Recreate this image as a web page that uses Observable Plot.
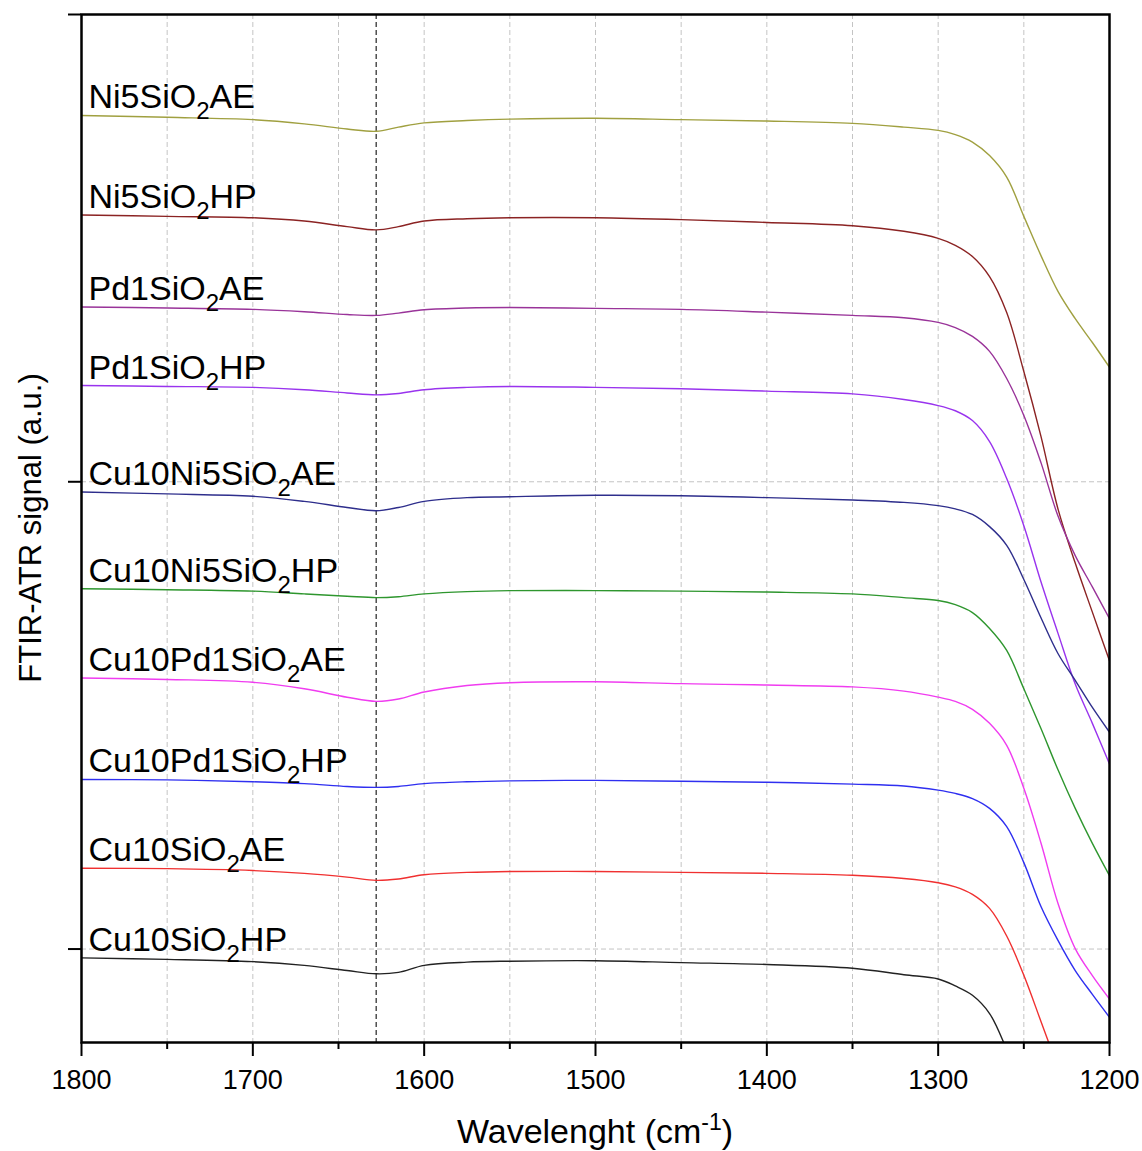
<!DOCTYPE html>
<html><head><meta charset="utf-8">
<script src="https://cdn.jsdelivr.net/npm/d3@7"></script>
<script src="https://cdn.jsdelivr.net/npm/@observablehq/plot@0.6"></script>
<style>body{margin:0;background:#fff;} #chart{width:1142px;height:1151px;}</style>
</head><body><div id="chart"></div>
<script>
// Wavenumbers (cm-1) at which the spectra were read
const wavenumbers = [1800,1750,1700,1670,1645,1628,1615,1600,1575,1550,1500,1450,1400,1350,1320,1300,1290,1280,1270,1260,1250,1240,1230,1220,1210,1200];

// FTIR-ATR signal (a.u., stacked/offset spectra)
const ni5AE     = [178.4,178.0,177.5,176.6,175.5,175.0,175.9,176.8,177.3,177.6,177.8,177.5,177.2,176.7,175.9,175.2,174.3,172.7,169.8,165.2,156.8,148.4,140.7,134.9,129.8,124.5];
const ni5HP     = [157.1,156.8,156.5,155.8,154.6,153.9,154.6,155.8,156.3,156.5,156.5,156.1,155.5,154.8,153.6,152.1,150.6,148.2,143.9,136.2,123.6,109.7,94.1,82.6,72.1,61.7];
const pd1AE     = [137.4,137.2,136.9,136.4,135.8,135.6,136.1,136.8,137.2,137.3,137.1,136.9,136.3,135.6,135.1,134.1,133.0,131.1,127.9,122.1,114.2,104.1,92.6,84.2,77.5,70.7];
const pd1HP     = [120.6,120.4,120.2,119.7,119.0,118.6,118.9,119.7,120.2,120.4,120.2,119.9,119.4,118.8,117.6,116.3,115.2,113.1,108.6,100.7,90.6,78.6,67.5,56.7,48.3,39.6];
const cu10ni5AE = [97.8,97.4,96.9,95.8,94.5,93.8,94.5,95.8,96.6,96.8,97.1,97.0,96.6,96.1,95.6,94.9,94.2,93.0,90.4,86.4,79.1,70.9,63.2,57.5,51.7,46.4];
const cu10ni5HP = [77.1,76.9,76.6,76.0,75.5,75.2,75.4,76.0,76.5,76.7,76.7,76.6,76.4,76.0,75.2,74.6,73.7,72.0,68.6,63.9,55.7,47.2,38.3,30.1,22.6,15.7];
const cu10pd1AE = [58.0,57.7,57.1,55.7,53.9,53.0,53.5,55.0,56.4,57.0,57.2,56.8,56.5,56.1,55.2,53.9,53.0,51.3,48.3,43.6,34.4,22.7,9.7,0.1,-5.7,-10.7];
const cu10pd1HP = [36.3,36.2,35.8,35.4,34.8,34.6,34.8,35.4,35.8,36.0,36.1,35.9,35.7,35.3,34.9,34.0,33.3,32.2,30.1,26.2,18.5,9.1,1.8,-4.6,-9.7,-14.6];
const cu10AE    = [17.3,17.2,16.8,16.2,15.4,14.7,15.0,15.9,16.4,16.6,16.6,16.4,16.2,15.8,15.1,14.2,13.3,11.7,8.7,2.8,-5.6,-15.5,-25.5];
const cu10HP    = [-1.9,-2.2,-2.7,-3.5,-4.6,-5.3,-5.0,-3.5,-2.8,-2.6,-2.5,-2.9,-3.3,-4.1,-5.5,-6.4,-7.9,-9.9,-13.8,-21.5,-30.3];

const seriesNames = ["Ni5SiO2AE","Ni5SiO2HP","Pd1SiO2AE","Pd1SiO2HP","Cu10Ni5SiO2AE","Cu10Ni5SiO2HP","Cu10Pd1SiO2AE","Cu10Pd1SiO2HP","Cu10SiO2AE","Cu10SiO2HP"];
const seriesValues = [ni5AE, ni5HP, pd1AE, pd1HP, cu10ni5AE, cu10ni5HP, cu10pd1AE, cu10pd1HP, cu10AE, cu10HP];
const seriesColors = ["#a0a040","#8b2323","#993399","#9933ee","#2e2e8c","#2e962e","#f03cf0","#2f2ff0","#f03030","#222222"];

const xMajorTicks = [1800,1700,1600,1500,1400,1300,1200];
const xMinorTicks = [1750,1650,1550,1450,1350,1250];
const xGridTicks = [1750,1700,1650,1600,1550,1500,1450,1400,1350,1300,1250];
const yTicks = [0,100,200];
const yGridTicks = [0,100];
const peakMarker = [1628];

const rows = [];
seriesNames.forEach((name, i) => {
  seriesValues[i].forEach((v, j) => rows.push({wn: wavenumbers[j], signal: v, sample: name}));
});
const labelRows = seriesNames.map((name, i) => ({wn: wavenumbers[0], signal: seriesValues[i][0], sample: name}));

const W = 1142, H = 1151, mL = 81, mR = 33, mT = 14, mB = 109;
const font = "'Liberation Sans', Arial, sans-serif";

const plot = Plot.plot({
  width: W, height: H,
  marginLeft: mL, marginRight: mR, marginTop: mT, marginBottom: mB,
  style: {fontFamily: font, background: "white", color: "black"},
  x: {domain: [1800, 1200], label: null},
  y: {domain: [-20, 200], label: null},
  color: {domain: seriesNames, range: seriesColors},
  marks: [
    Plot.gridX(xGridTicks, {stroke: "#c4c4c4", strokeOpacity: 1, strokeWidth: 1, strokeDasharray: "5,3"}),
    Plot.gridY(yGridTicks, {stroke: "#c4c4c4", strokeOpacity: 1, strokeWidth: 1, strokeDasharray: "5,3"}),
    Plot.ruleX(peakMarker, {stroke: "#333333", strokeWidth: 1.3, strokeDasharray: "5,3"}),
    Plot.line(rows, {x: "wn", y: "signal", z: "sample", stroke: "sample", strokeWidth: 1.4, curve: "catmull-rom", clip: true}),
    Plot.text(labelRows, {x: "wn", y: "signal", text: "sample", dx: 7, dy: -7, textAnchor: "start", lineAnchor: "bottom", fontSize: 34, fill: "black"}),
    Plot.frame({stroke: "black", strokeWidth: 2.5}),
    Plot.axisX(xMajorTicks, {tickSize: 14, strokeWidth: 2, tickPadding: 13, fontSize: 27, tickFormat: d => String(d), label: null}),
    Plot.axisX(xMinorTicks, {tickSize: 7, strokeWidth: 2, tickFormat: () => "", label: null}),
    Plot.axisY(yTicks, {tickSize: 13, strokeWidth: 2, tickFormat: () => "", label: null})
  ]
});

// Subscript "2" in SiO2 labels
const ns = "http://www.w3.org/2000/svg";
d3.select(plot).selectAll("text").each(function() {
  const t = this.textContent;
  const m = t.match(/^(.*SiO)2(.*)$/);
  if (!m) return;
  this.textContent = "";
  this.appendChild(document.createTextNode(m[1]));
  const sub = document.createElementNS(ns, "tspan");
  sub.setAttribute("font-size", "24");
  sub.setAttribute("dy", "11");
  sub.textContent = "2";
  this.appendChild(sub);
  const rest = document.createElementNS(ns, "tspan");
  rest.setAttribute("dy", "-11");
  rest.textContent = m[2];
  this.appendChild(rest);
});

const svg = d3.select(plot);
const cx = (mL + W - mR) / 2, cy = (mT + H - mB) / 2;
const xt = svg.append("text").attr("x", cx).attr("y", 1143).attr("text-anchor", "middle")
  .attr("font-size", 34).attr("font-family", font).attr("fill", "black");
xt.append("tspan").text("Wavelenght (cm");
xt.append("tspan").attr("font-size", 23).attr("dy", -13).text("-1");
xt.append("tspan").attr("dy", 13).text(")");
svg.append("text").attr("transform", `translate(41,${cy}) rotate(-90)`).attr("text-anchor", "middle")
  .attr("font-size", 31).attr("font-family", font).attr("fill", "black").text("FTIR-ATR signal (a.u.)");

document.getElementById("chart").appendChild(plot);
</script></body></html>
